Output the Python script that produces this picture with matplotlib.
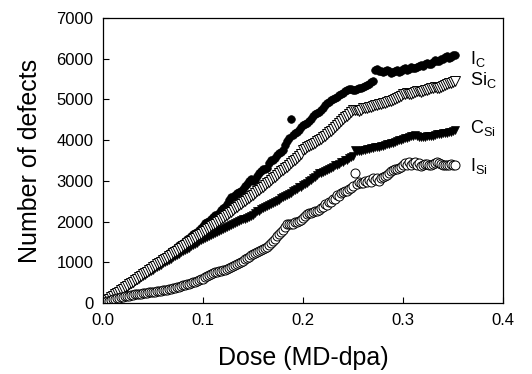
import matplotlib
matplotlib.use("Agg")
import matplotlib.pyplot as plt

plt.rcParams['font.family'] = ['Liberation Sans', 'DejaVu Sans']
plt.rcParams['mathtext.fontset'] = 'custom'
plt.rcParams['mathtext.rm'] = 'Liberation Sans'

# dose steps (MD-dpa)
dose = [0.000, 0.002, 0.004, 0.006, 0.008, 0.010, 0.012, 0.014, 0.016, 0.018,
        0.020, 0.022, 0.024, 0.026, 0.028, 0.030, 0.032, 0.034, 0.036, 0.038,
        0.040, 0.042, 0.044, 0.046, 0.048, 0.050, 0.052, 0.054, 0.056, 0.058,
        0.060, 0.062, 0.064, 0.066, 0.068, 0.070, 0.072, 0.074, 0.076, 0.078,
        0.080, 0.082, 0.084, 0.086, 0.088, 0.090, 0.092, 0.094, 0.096, 0.098,
        0.100, 0.102, 0.104, 0.106, 0.108, 0.110, 0.112, 0.114, 0.116, 0.118,
        0.120, 0.122, 0.124, 0.126, 0.128, 0.130, 0.132, 0.134, 0.136, 0.138,
        0.140, 0.142, 0.144, 0.146, 0.148, 0.150, 0.152, 0.154, 0.156, 0.158,
        0.160, 0.162, 0.164, 0.166, 0.168, 0.170, 0.172, 0.174, 0.176, 0.178,
        0.180, 0.182, 0.184, 0.186, 0.188, 0.190, 0.192, 0.194, 0.196, 0.198,
        0.200, 0.202, 0.204, 0.206, 0.208, 0.210, 0.212, 0.214, 0.216, 0.218,
        0.220, 0.222, 0.224, 0.226, 0.228, 0.230, 0.232, 0.234, 0.236, 0.238,
        0.240, 0.242, 0.244, 0.246, 0.248, 0.250, 0.252, 0.254, 0.256, 0.258,
        0.260, 0.262, 0.264, 0.266, 0.268, 0.270, 0.272, 0.274, 0.276, 0.278,
        0.280, 0.282, 0.284, 0.286, 0.288, 0.290, 0.292, 0.294, 0.296, 0.298,
        0.300, 0.302, 0.304, 0.306, 0.308, 0.310, 0.312, 0.314, 0.316, 0.318,
        0.320, 0.322, 0.324, 0.326, 0.328, 0.330, 0.332, 0.334, 0.336, 0.338,
        0.340, 0.342, 0.344, 0.346, 0.348, 0.350, 0.352]

i_c = [0, 30, 75, 110, 140, 185, 225, 250, 285, 330,
       370, 400, 435, 480, 520, 545, 585, 630, 665, 700,
       730, 780, 815, 845, 880, 930, 965, 990, 1030, 1080,
       1115, 1140, 1180, 1230, 1265, 1290, 1330, 1380, 1415, 1440,
       1480, 1530, 1565, 1600, 1640, 1700, 1730, 1750, 1790, 1850,
       1880, 1960, 1990, 2010, 2060, 2120, 2150, 2160, 2200, 2290,
       2330, 2360, 2420, 2530, 2600, 2610, 2650, 2700, 2720, 2750,
       2800, 2880, 2930, 2990, 3050, 3000, 3020, 3110, 3180, 3230,
       3280, 3290, 3320, 3430, 3500, 3520, 3560, 3630, 3680, 3700,
       3750, 3880, 3980, 4050, 4520, 4120, 4180, 4200, 4250, 4330,
       4380, 4390, 4420, 4480, 4520, 4590, 4640, 4660, 4700, 4740,
       4780, 4850, 4900, 4940, 4980, 5000, 5030, 5070, 5100, 5120,
       5150, 5200, 5230, 5260, 5250, 5240, 5220, 5250, 5280, 5290,
       5300, 5340, 5360, 5380, 5420, 5440, 5720, 5740, 5700, 5690,
       5680, 5700, 5720, 5690, 5660, 5680, 5700, 5720, 5680, 5700,
       5740, 5760, 5720, 5750, 5800, 5780, 5760, 5800, 5830, 5850,
       5820, 5860, 5900, 5880, 5870, 5920, 5960, 5940, 5950, 5980,
       6000, 6030, 6060, 6020, 6040, 6080, 6100]

si_c = [0, 35, 65, 100, 135, 170, 210, 245, 280, 315,
        350, 385, 420, 455, 490, 525, 560, 595, 630, 665,
        700, 735, 770, 805, 840, 875, 910, 945, 980, 1015,
        1050, 1080, 1115, 1150, 1180, 1215, 1250, 1285, 1320, 1355,
        1390, 1425, 1460, 1495, 1530, 1565, 1600, 1635, 1670, 1705,
        1740, 1775, 1810, 1845, 1880, 1915, 1950, 1985, 2020, 2055,
        2090, 2125, 2160, 2200, 2240, 2280, 2320, 2360, 2400, 2440,
        2480, 2515, 2550, 2585, 2620, 2660, 2700, 2740, 2780, 2820,
        2860, 2900, 2940, 2980, 3020, 3060, 3100, 3150, 3190, 3230,
        3270, 3310, 3350, 3400, 3440, 3480, 3520, 3560, 3600, 3650,
        3760, 3790, 3820, 3850, 3880, 3910, 3940, 3970, 4000, 4030,
        4070, 4100, 4140, 4190, 4230, 4280, 4320, 4370, 4420, 4470,
        4520, 4560, 4600, 4650, 4700, 4750, 4740, 4730, 4720, 4750,
        4780, 4790, 4800, 4810, 4820, 4840, 4850, 4870, 4880, 4890,
        4900, 4920, 4930, 4950, 4960, 4980, 5000, 5030, 5060, 5090,
        5120, 5140, 5160, 5140, 5120, 5150, 5180, 5200, 5210, 5190,
        5200, 5220, 5240, 5260, 5270, 5290, 5300, 5280, 5290, 5310,
        5330, 5360, 5380, 5390, 5400, 5420, 5440]

c_si = [0, 30, 65, 95, 130, 165, 200, 230, 265, 300,
        335, 365, 400, 430, 465, 500, 530, 560, 595, 630,
        660, 690, 725, 760, 790, 820, 850, 880, 910, 940,
        970, 1000, 1030, 1060, 1090, 1120, 1150, 1180, 1210, 1240,
        1270, 1300, 1330, 1360, 1390, 1420, 1450, 1480, 1510, 1540,
        1570, 1590, 1620, 1640, 1670, 1690, 1720, 1740, 1770, 1790,
        1820, 1850, 1870, 1900, 1920, 1950, 1970, 1990, 2010, 2030,
        2050, 2070, 2090, 2110, 2130, 2170, 2210, 2250, 2270, 2300,
        2330, 2350, 2380, 2400, 2420, 2450, 2480, 2510, 2540, 2570,
        2600, 2620, 2650, 2680, 2710, 2740, 2780, 2810, 2840, 2860,
        2890, 2920, 2950, 2990, 3020, 3060, 3100, 3140, 3180, 3200,
        3220, 3240, 3260, 3290, 3320, 3350, 3380, 3400, 3420, 3450,
        3470, 3500, 3520, 3550, 3580, 3620, 3760, 3740, 3720, 3730,
        3750, 3760, 3770, 3790, 3800, 3810, 3820, 3820, 3830, 3850,
        3860, 3880, 3900, 3910, 3920, 3940, 3960, 3970, 3990, 4000,
        4020, 4040, 4060, 4080, 4100, 4110, 4120, 4100, 4080, 4070,
        4070, 4080, 4090, 4100, 4100, 4110, 4120, 4140, 4150, 4160,
        4170, 4170, 4180, 4190, 4200, 4220, 4240]

i_si = [0, 20, 40, 55, 70, 85, 100, 115, 130, 140,
        150, 160, 170, 180, 190, 200, 210, 215, 220, 230,
        240, 245, 250, 260, 270, 275, 280, 290, 300, 305,
        310, 320, 330, 340, 350, 360, 370, 385, 400, 415,
        430, 445, 460, 475, 490, 505, 520, 540, 560, 580,
        600, 625, 650, 675, 700, 730, 750, 770, 780, 790,
        800, 810, 830, 860, 880, 910, 940, 960, 980, 1010,
        1040, 1070, 1100, 1140, 1180, 1210, 1230, 1250, 1270, 1300,
        1330, 1350, 1380, 1420, 1470, 1520, 1580, 1640, 1700, 1750,
        1800, 1870, 1940, 1950, 1930, 1950, 1980, 2000, 2010, 2040,
        2080, 2130, 2180, 2200, 2220, 2240, 2250, 2270, 2290, 2320,
        2360, 2420, 2410, 2480, 2470, 2560, 2560, 2640, 2620, 2700,
        2720, 2740, 2760, 2800, 2830, 2870, 3200, 2920, 2960, 2950,
        2940, 3000, 2960, 3020, 2980, 3060, 3010, 3080, 3000, 3060,
        3100, 3120, 3140, 3190, 3230, 3260, 3280, 3300, 3320, 3350,
        3380, 3440, 3400, 3460, 3390, 3440, 3470, 3400, 3440, 3370,
        3390, 3410, 3420, 3400, 3380, 3410, 3440, 3450, 3430, 3410,
        3400, 3390, 3380, 3400, 3410, 3400, 3390]

labels = [r'$\mathrm{I_C}$', r'$\mathrm{Si_C}$', r'$\mathrm{C_{Si}}$', r'$\mathrm{I_{Si}}$']
label_y = [6000, 5480, 4300, 3370]

fig = plt.figure(figsize=(5.32, 3.74), dpi=100)
ax = fig.add_axes([0.194, 0.190, 0.751, 0.762])

ax.plot(dose, i_c, 'o', color='black', ms=5.5, mec='black', mew=0.5, ls='none')
ax.plot(dose, c_si, 'v', color='black', ms=6, mec='black', mew=0.5, ls='none')
ax.plot(dose, si_c, 'v', mfc='white', mec='black', ms=6.5, mew=0.7, ls='none')
ax.plot(dose, i_si, 'o', mfc='white', mec='black', ms=6.5, mew=0.7, ls='none')

for lab, yy in zip(labels, label_y):
    ax.text(0.3675, yy, lab, fontsize=13, va='center', ha='left')

ax.set_xlim(0, 0.4)
ax.set_ylim(0, 7000)
ax.set_xticks([0.0, 0.1, 0.2, 0.3, 0.4])
ax.set_xticklabels(['0.0', '0.1', '0.2', '0.3', '0.4'])
ax.set_yticks(range(0, 7001, 1000))
ax.tick_params(direction='in', length=4, width=0.8, labelsize=12, pad=7)
for sp in ax.spines.values():
    sp.set_linewidth(0.9)

ax.set_xlabel('Dose (MD-dpa)', fontsize=18, labelpad=13)
ax.set_ylabel('Number of defects', fontsize=18, labelpad=10)

fig.savefig('out.png', dpi=100)
